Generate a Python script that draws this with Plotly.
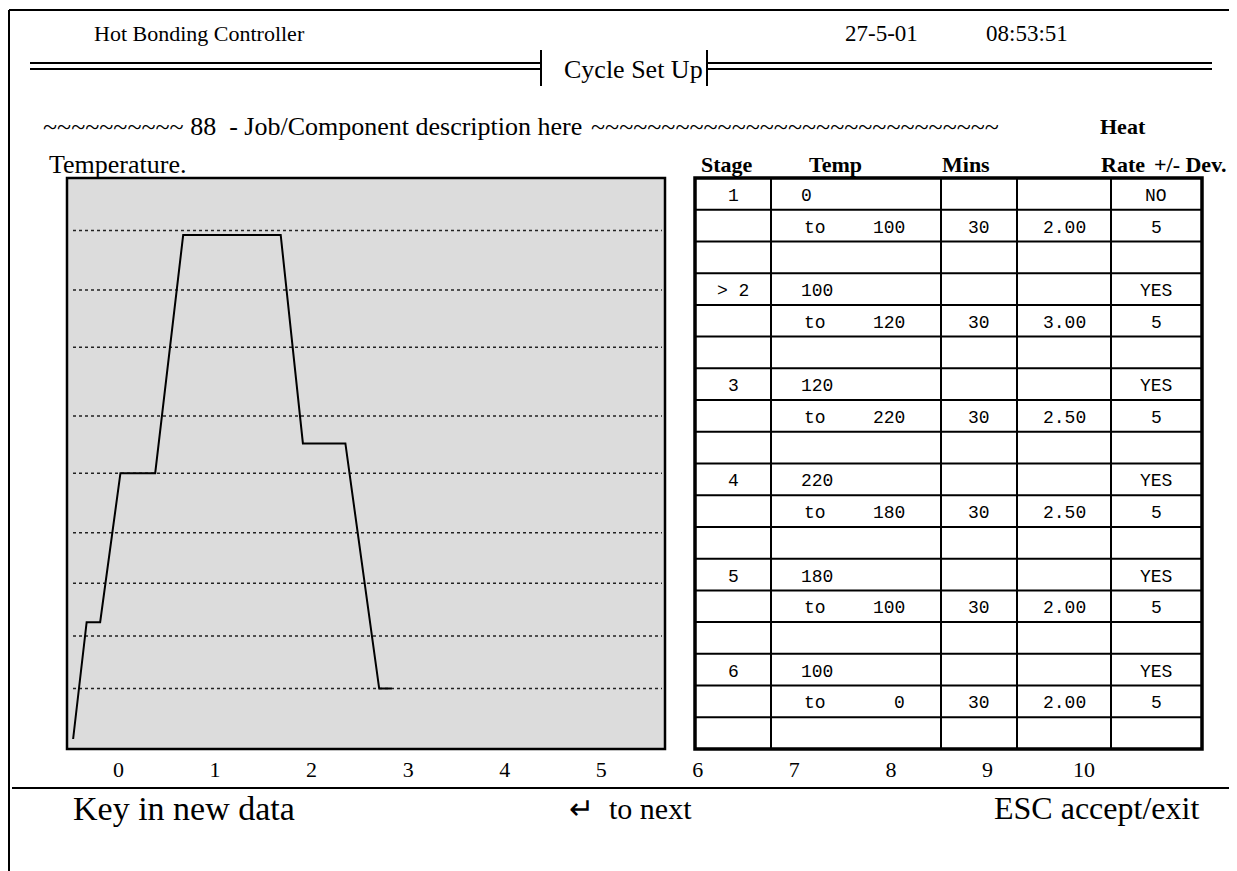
import plotly.graph_objects as go

# ---------------- data ----------------
time_h = [-0.47, -0.33, -0.19, 0.02, 0.38, 0.67, 1.68, 1.91, 2.35, 2.70, 2.83]
temp_plot = [0, 51, 51, 116, 116, 220, 220, 129, 129, 22, 22]
grid_levels = [222, 196, 171, 141, 116, 90, 68, 45, 22]
x_ticks = [0, 1, 2, 3, 4, 5, 6, 7, 8, 9, 10]

stages = ["1", "> 2", "3", "4", "5", "6"]
from_temps = [0, 100, 120, 220, 180, 100]
to_temps = [100, 120, 220, 180, 100, 0]
mins = [30, 30, 30, 30, 30, 30]
rates = ["2.00", "3.00", "2.50", "2.50", "2.00", "2.00"]
dev_flags = ["NO", "YES", "YES", "YES", "YES", "YES"]
devs = [5, 5, 5, 5, 5, 5]
col_headers = ["Stage", "Temp", "Mins", "Rate", "+/- Dev."]

# ---------------- layout helpers ----------------
W, H = 1229, 863
def X(px):
    return px / W
def Y(py):
    return 1 - py / H

SERIF = "Liberation Serif, Times New Roman, serif"
MONO = "Liberation Mono, Courier New, monospace"

X0_PX, UNIT_PX = 110.5, 96.55          # time axis: px of 0 and px per unit
def t_of(px):
    return (px - X0_PX) / UNIT_PX
Y0_PX, DEG_PX = 731.0, 2.291           # temperature axis
def v_of(py):
    return (Y0_PX - py) / DEG_PX

BOX_L, BOX_R, BOX_T, BOX_B = 59, 657, 170, 741

fig = go.Figure()
fig.add_trace(go.Scatter(x=time_h, y=temp_plot, mode="lines",
                         line=dict(color="black", width=2),
                         showlegend=False, hoverinfo="skip"))
fig.add_trace(go.Scatter(x=x_ticks, y=[None] * len(x_ticks), xaxis="x2", yaxis="y",
                         mode="markers", showlegend=False, hoverinfo="skip"))

shapes = []
shapes.append(dict(type="rect", xref="paper", yref="paper", layer="below",
                   x0=X(BOX_L), x1=X(BOX_R), y0=Y(BOX_B), y1=Y(BOX_T),
                   fillcolor="#DCDCDC", line=dict(color="black", width=2.5)))
for g in grid_levels:
    shapes.append(dict(type="line", xref="x domain", yref="y", layer="below",
                       x0=(65 - BOX_L) / (BOX_R - BOX_L), x1=(654 - BOX_L) / (BOX_R - BOX_L),
                       y0=g, y1=g, line=dict(color="#222222", width=1.5, dash="dot")))

def pline(x0, y0, x1, y1, w=2):
    shapes.append(dict(type="line", xref="paper", yref="paper",
                       x0=X(x0), y0=Y(y0), x1=X(x1), y1=Y(y1),
                       line=dict(color="black", width=w)))

# outer frame
pline(1, 2, W, 2, 2)
pline(1, 2, 1, H, 2)
# header double rules and ticks
for yy in (55, 61):
    pline(22, yy, 533, yy, 2)
    pline(699, yy, 1204, yy, 2)
pline(533, 42, 533, 78, 2)
pline(699, 42, 699, 78, 2)
# footer rule
pline(4, 780, W, 780, 2)

# table grid
col_edges = [687, 763, 933, 1009, 1103, 1194]
T_TOP, T_BOT = 170, 741
n_rows = 3 * len(stages)
row_h = (T_BOT - T_TOP) / n_rows
for ce in col_edges[1:-1]:
    pline(ce, T_TOP, ce, T_BOT, 2)
for r in range(1, n_rows):
    yy = T_TOP + r * row_h
    pline(col_edges[0], yy, col_edges[-1], yy, 2)
shapes.append(dict(type="rect", xref="paper", yref="paper",
                   x0=X(col_edges[0]), x1=X(col_edges[-1]), y0=Y(T_BOT), y1=Y(T_TOP),
                   line=dict(color="black", width=3.5)))

ann = []
def text(s, px, py, size=20, anchor="left", family=SERIF, bold=False):
    if bold:
        s = "<b>" + s + "</b>"
    ann.append(dict(text=s, x=X(px), y=Y(py), xref="paper", yref="paper",
                    xanchor=anchor, yanchor="middle", showarrow=False,
                    font=dict(family=family, size=size, color="black")))

# header
text("Hot Bonding Controller", 84, 25, 22)
text("27-5-01", 835, 25, 23)
text("08:53:51", 976, 25, 23)
text("Cycle Set Up", 625, 61, 26, "center")
text("~~~~~~~~~~ 88  - Job/Component description here", 33, 119, 26)
text("~" * 29, 993, 119, 26, "right")
text("Heat", 1115, 119, 22, "center", bold=True)
text("Temperature.", 39, 156, 26)
hdr_x = [719, 827, 958, 1115, 1182]
for h, hx in zip(col_headers, hdr_x):
    text(h, hx, 156, 22, "center", bold=True)

# table cells
MS = 18
for i, st in enumerate(stages):
    r1 = T_TOP + (3 * i + 0.5) * row_h + 2
    r2 = T_TOP + (3 * i + 1.5) * row_h + 2
    text(st, 725, r1, MS, "center", MONO)
    text(str(from_temps[i]), 791, r1, MS, "left", MONO)
    text(dev_flags[i], 1148, r1, MS, "center", MONO)
    text("to", 794, r2, MS, "left", MONO)
    text(str(to_temps[i]), 899, r2, MS, "right", MONO)
    text(str(mins[i]), 971, r2, MS, "center", MONO)
    text(rates[i], 1056, r2, MS, "center", MONO)
    text(str(devs[i]), 1148, r2, MS, "center", MONO)

# footer
text("Key in new data", 63, 800, 34)
text("\u21b5  to next", 559, 800, 30)
text("ESC accept/exit", 1193, 800, 32, "right")

fig.update_layout(
    width=W, height=H, autosize=False,
    margin=dict(l=0, r=0, t=0, b=0),
    paper_bgcolor="white", plot_bgcolor="rgba(0,0,0,0)",
    showlegend=False,
    xaxis=dict(domain=[X(BOX_L), X(BOX_R)], range=[t_of(BOX_L), t_of(BOX_R)],
               visible=False, fixedrange=True),
    yaxis=dict(domain=[Y(BOX_B), Y(BOX_T)], range=[v_of(BOX_B), v_of(BOX_T)],
               visible=False, fixedrange=True),
    xaxis2=dict(domain=[0, 1], range=[t_of(0), t_of(W)], anchor="y",
                tickvals=x_ticks, ticktext=[str(v) for v in x_ticks],
                ticks="outside", ticklen=1, tickcolor="rgba(0,0,0,0)",
                showline=False, showgrid=False, zeroline=False,
                tickfont=dict(family=SERIF, size=22, color="black"), fixedrange=True),
    shapes=shapes,
    annotations=ann,
)

fig.write_html("out.html")
